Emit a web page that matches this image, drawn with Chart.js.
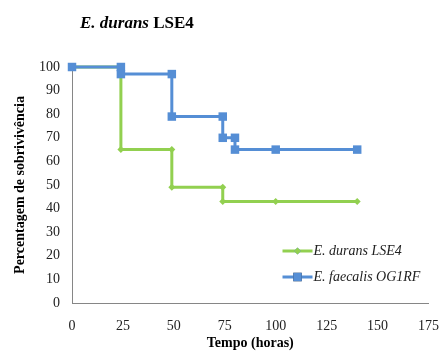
<!DOCTYPE html>
<html>
<head>
<meta charset="utf-8">
<script src="https://cdn.jsdelivr.net/npm/chart.js@4"></script>
<style>
  html, body { margin: 0; padding: 0; background: #fff; }
  #wrap { position: relative; width: 439px; height: 358px; overflow: hidden; }
  #title { position: absolute; left: 80px; top: 13px; font-family: "Liberation Serif", "Times New Roman", serif; font-size: 17px; font-weight: bold; color: #000; white-space: nowrap; line-height: 19px; }
  canvas { position: absolute; left: 0; top: 0; }
</style>
</head>
<body>
<div id="wrap">
  <canvas id="c" width="439" height="358"></canvas>
  <div id="title"><i>E. durans</i> LSE4</div>
</div>
<script>
// ---- data ----
const seriesNames = ["E. durans LSE4", "E. faecalis OG1RF"];
const duransTimes = [0, 24, 24, 49, 49, 74, 74, 100, 140];
const duransSurvival = [100, 100, 65, 65, 49, 49, 43, 43, 43];
const faecalisTimes = [0, 24, 24, 49, 49, 74, 74, 80, 80, 100, 140];
const faecalisSurvival = [100, 100, 97, 97, 79, 79, 70, 70, 65, 65, 65];
const xTickStep = 25;
const xMax = 175;
const yTickStep = 10;
const yMax = 100;
const xAxisTitle = "Tempo (horas)";
const yAxisTitle = "Percentagem de sobrivivência";

const GREEN = "#92D050";
const BLUE = "#558ED5";
const SERIF = '"Liberation Serif", "Times New Roman", serif';

function toPoints(xs, ys) { return xs.map((x, i) => ({ x: x, y: ys[i] })); }

const legendPlugin = {
  id: 'insideLegend',
  afterDraw(chart) {
    const ctx = chart.ctx;
    const ca = chart.chartArea;
    const x0 = ca.right - 146;
    const rows = [
      { y: ca.bottom - 52, ds: chart.data.datasets[0] },
      { y: ca.bottom - 26, ds: chart.data.datasets[1] }
    ];
    ctx.save();
    rows.forEach(r => {
      const ds = r.ds;
      ctx.strokeStyle = ds.borderColor;
      ctx.lineWidth = ds.borderWidth;
      ctx.beginPath();
      ctx.moveTo(x0, r.y);
      ctx.lineTo(x0 + 30, r.y);
      ctx.stroke();
      Chart.helpers.drawPoint(ctx, {
        pointStyle: ds.pointStyle,
        radius: ds.pointRadius,
        borderWidth: 0,
        rotation: 0
      }, x0 + 15, r.y);
      ctx.fillStyle = ds.pointBackgroundColor;
      ctx.fill();
      ctx.fillStyle = "#222";
      ctx.font = "italic 14px " + SERIF;
      ctx.textBaseline = "middle";
      ctx.textAlign = "left";
      ctx.fillText(ds.label, x0 + 31, r.y);
    });
    ctx.restore();
  }
};

new Chart(document.getElementById('c'), {
  type: 'line',
  data: {
    datasets: [
      {
        label: seriesNames[0],
        data: toPoints(duransTimes, duransSurvival),
        borderColor: GREEN,
        backgroundColor: GREEN,
        pointBackgroundColor: GREEN,
        pointBorderColor: GREEN,
        borderWidth: 3,
        pointStyle: 'rectRot',
        pointRadius: 3.5,
        pointBorderWidth: 0,
        fill: false,
        tension: 0,
        clip: false,
        order: 1
      },
      {
        label: seriesNames[1],
        data: toPoints(faecalisTimes, faecalisSurvival),
        borderColor: BLUE,
        backgroundColor: BLUE,
        pointBackgroundColor: BLUE,
        pointBorderColor: BLUE,
        borderWidth: 3,
        pointStyle: 'rect',
        pointRadius: 6,
        pointBorderWidth: 0,
        fill: false,
        tension: 0,
        clip: false,
        order: 0
      }
    ]
  },
  options: {
    responsive: false,
    animation: false,
    events: [],
    layout: { padding: { top: 67, left: 0, right: 10.5, bottom: 0 } },
    plugins: {
      legend: { display: false },
      title: { display: false },
      tooltip: { enabled: false }
    },
    scales: {
      x: {
        type: 'linear',
        min: 0,
        max: xMax,
        grid: { display: false, drawTicks: false },
        border: { display: true, color: '#868686', width: 1 },
        ticks: { stepSize: xTickStep, padding: 15, color: '#222', font: { family: SERIF, size: 14 }, maxRotation: 0 },
        title: { display: true, text: xAxisTitle, color: '#000', font: { family: SERIF, size: 14, weight: 'bold' }, padding: { top: 0, bottom: 6 } },
        afterFit(scale) { scale.height = 55; scale.paddingRight = 0; scale.paddingLeft = 0; }
      },
      y: {
        type: 'linear',
        min: 0,
        max: yMax,
        grid: { display: false, drawTicks: false },
        border: { display: true, color: '#868686', width: 1 },
        ticks: { stepSize: yTickStep, padding: 12, color: '#222', font: { family: SERIF, size: 14 } },
        title: { display: true, text: yAxisTitle, color: '#000', font: { family: SERIF, size: 14, weight: 'bold' }, padding: { top: 12, bottom: 0 } },
        afterFit(scale) { scale.width = 72; }
      }
    }
  },
  plugins: [legendPlugin]
});
</script>
</body>
</html>
